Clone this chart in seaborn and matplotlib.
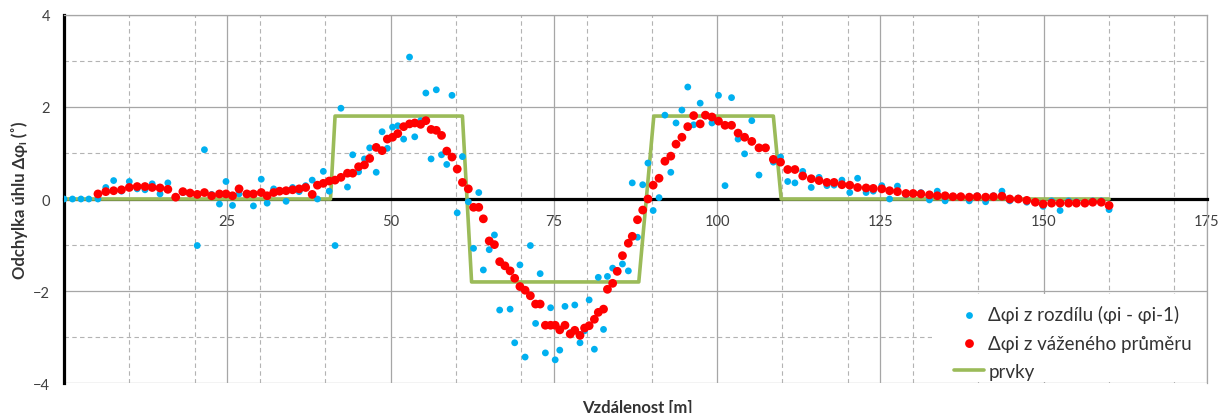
import numpy as np
import matplotlib
matplotlib.use("Agg")
import matplotlib.pyplot as plt
from matplotlib.ticker import MultipleLocator, FixedLocator
from matplotlib.transforms import Bbox, TransformedBbox
import pandas as pd
import seaborn as sns

# Station positions along the measured line [m]
distance = [
    0.0, 1.3, 2.6, 3.8, 5.2, 6.4, 7.6, 8.8, 10.0, 11.2, 12.4, 13.5, 14.7, 15.9,
    17.1, 18.2, 19.3, 20.4, 21.5, 22.6, 23.8, 24.8, 25.8, 26.8, 28.0, 29.0,
    30.2, 31.1, 32.1, 33.0, 34.0, 35.0, 36.0, 37.0, 38.0, 38.8, 39.7, 40.6,
    41.5, 42.4, 43.4, 44.2, 45.1, 46.0, 46.8, 47.8, 48.7, 49.5, 50.3, 51.1,
    52.0, 52.9, 53.7, 54.6, 55.4, 56.2, 57.0, 57.8, 58.6, 59.4, 60.2, 61.0,
    61.9, 62.7, 63.5, 64.2, 65.1, 65.9, 66.7, 67.5, 68.3, 69.0, 69.8, 70.6,
    71.4, 72.2, 72.9, 73.7, 74.5, 75.2, 75.9, 76.7, 77.5, 78.2, 79.0, 79.7,
    80.4, 81.2, 81.8, 82.6, 83.2, 84.0, 84.7, 85.5, 86.4, 87.0, 87.8, 88.6,
    89.4, 90.2, 91.1, 92.0, 92.9, 93.7, 94.6, 95.5, 96.4, 97.4, 98.2, 99.2,
    100.2, 101.2, 102.2, 103.2, 104.2, 105.3, 106.4, 107.4, 108.6, 109.7,
    110.8, 111.9, 113.1, 114.4, 115.6, 116.8, 117.9, 119.1, 120.3, 121.5,
    122.8, 123.9, 125.2, 126.4, 127.6, 128.9, 130.0, 131.2, 132.5, 133.7,
    134.9, 136.1, 137.3, 138.6, 139.8, 141.1, 142.3, 143.6, 144.8, 146.1,
    147.4, 148.7, 149.9, 151.2, 152.5, 153.8, 155.0, 156.3, 157.5, 158.8,
    160.0,
]

# Δφ from the difference of consecutive angles (φi - φi-1)
dphi_diff = [
    0.0, 0.0, 0.0, 0.0, 0.0, 0.25, 0.40, 0.17, 0.38, 0.22, 0.20, 0.33, 0.11,
    0.35, 0.04, 0.14, 0.12, -1.01, 1.07, 0.10, -0.11, 0.38, -0.14, 0.11, 0.10,
    -0.15, 0.43, -0.09, 0.22, 0.17, -0.05, 0.25, 0.16, 0.29, 0.41, 0.0, 0.60,
    0.17, -1.01, 1.97, 0.26, 0.96, 0.59, 0.87, 1.11, 0.58, 1.46, 1.10, 1.56,
    1.59, 1.30, 3.08, 1.35, 1.70, 2.30, 0.87, 2.37, 0.96, 0.75, 2.25, -0.30,
    0.92, -0.06, -1.07, 0.14, -1.54, -1.10, -0.78, -2.41, -1.45, -2.39, -3.12,
    -1.43, -3.43, -1.01, -2.70, -1.62, -3.34, -2.36, -3.49, -3.28, -2.33,
    -2.90, -2.30, -3.12, -2.86, -2.19, -3.26, -1.70, -2.83, -1.68, -1.50,
    -1.55, -1.41, -1.56, 0.35, -0.83, 0.31, 0.78, -0.25, 0.03, 1.82, 0.58,
    1.65, 1.93, 2.43, 1.61, 2.08, 1.80, 1.65, 2.25, 0.29, 2.20, 1.30, 0.98,
    1.70, 0.52, 1.10, 0.80, 0.91, 0.38, 0.35, 0.60, 0.25, 0.47, 0.29, 0.30,
    0.41, 0.14, 0.45, 0.14, 0.17, 0.29, 0.0, 0.28, 0.09, 0.12, 0.14, -0.02,
    0.17, -0.04, 0.05, 0.05, -0.04, 0.07, -0.06, 0.07, 0.17, -0.04, 0.02,
    -0.07, -0.08, -0.16, -0.04, -0.25, -0.04, -0.06, -0.08, -0.04, -0.04,
    -0.23,
]

# Δφ from the weighted mean (not defined for the first stations)
dphi_weighted = [
    np.nan, np.nan, np.nan, np.nan, 0.11, 0.16, 0.18, 0.20, 0.25, 0.27, 0.27,
    0.25, 0.24, 0.21, 0.04, 0.16, 0.13, 0.10, 0.14, 0.07, 0.11, 0.11, 0.07,
    0.22, 0.11, 0.11, 0.14, 0.07, 0.14, 0.17, 0.18, 0.20, 0.22, 0.25, 0.10,
    0.30, 0.34, 0.39, 0.41, 0.47, 0.56, 0.56, 0.70, 0.74, 0.88, 1.12, 1.05,
    1.30, 1.34, 1.42, 1.57, 1.63, 1.65, 1.62, 1.70, 1.51, 1.49, 1.38, 1.04,
    0.91, 0.65, 0.36, 0.22, -0.18, -0.18, -0.43, -0.91, -0.99, -1.36, -1.45,
    -1.56, -1.72, -1.90, -1.98, -2.10, -2.28, -2.28, -2.74, -2.74, -2.74,
    -2.84, -2.74, -2.93, -2.85, -2.96, -2.80, -2.75, -2.61, -2.46, -2.39,
    -1.96, -1.83, -1.57, -1.23, -0.96, -0.81, -0.45, -0.24, 0.0, 0.30, 0.45,
    0.82, 0.93, 1.19, 1.34, 1.57, 1.81, 1.63, 1.82, 1.78, 1.69, 1.60, 1.60,
    1.43, 1.34, 1.25, 1.11, 1.11, 0.86, 0.80, 0.64, 0.64, 0.50, 0.44, 0.40,
    0.36, 0.36, 0.31, 0.30, 0.25, 0.24, 0.23, 0.22, 0.18, 0.16, 0.12, 0.12,
    0.11, 0.09, 0.07, 0.07, 0.05, 0.05, 0.04, 0.05, 0.04, 0.05, 0.06, 0.0,
    0.0, -0.03, -0.07, -0.11, -0.09, -0.09, -0.09, -0.09, -0.09, -0.07,
    -0.07, -0.14,
]

# Design elements (prvky)
prvky_x = [0.0, 40.8, 41.5, 61.0, 62.4, 88.0, 90.3, 108.6, 109.8, 160.0]
prvky_y = [0.0, 0.0, 1.8, 1.8, -1.8, -1.8, 1.8, 1.8, 0.0, 0.0]

x_ticks = [0, 25, 50, 75, 100, 125, 150, 175]
x_tick_labels = ["", "25", "50", "75", "100", "125", "150", "175"]
y_ticks = [-4, -2, 0, 2, 4]

label_diff = "Δφi z rozdílu (φi - φi-1)"
label_weighted = "Δφi z váženého průměru"
label_prvky = "prvky"

sns.set_theme(style="white")
plt.rcParams["font.family"] = ["Lato", "DejaVu Sans"]

pts = pd.DataFrame({"x": distance, "diff": dphi_diff, "weighted": dphi_weighted})
elems = pd.DataFrame({"x": prvky_x, "y": prvky_y})

fig = plt.figure(figsize=(12.19, 4.14), dpi=100)
ax = fig.add_axes([0.0525, 0.0717, 0.9377, 0.8904])

sns.lineplot(data=elems, x="x", y="y", sort=False, color="#9BBB59",
             linewidth=2.6, ax=ax, label=label_prvky, zorder=3)
sns.scatterplot(data=pts, x="x", y="diff", color="#00B0F0", s=24,
                edgecolor="none", ax=ax, label=label_diff, zorder=4)
sns.scatterplot(data=pts.dropna(), x="x", y="weighted", color="#FF0000", s=40,
                edgecolor="none", ax=ax, label=label_weighted, zorder=5)

ax.set_xlim(0, 175)
ax.set_ylim(-4, 4)

# Grid: solid major lines, dashed minor lines
ax.xaxis.set_major_locator(FixedLocator(x_ticks))
ax.xaxis.set_minor_locator(MultipleLocator(10))
ax.yaxis.set_major_locator(FixedLocator(y_ticks))
ax.yaxis.set_minor_locator(MultipleLocator(1))
ax.set_xticklabels(x_tick_labels)
ax.set_axisbelow(True)
ax.grid(which="major", color="#a6a6a6", linewidth=0.9, linestyle="-")
ax.grid(which="minor", color="#b3b3b3", linewidth=0.8, linestyle=(0, (4, 3)))

# Axes crossing at the origin
ax.spines["bottom"].set_position(("data", 0))
ax.spines["left"].set_position(("data", 0))
for side in ("bottom", "left"):
    ax.spines[side].set_color("black")
    ax.spines[side].set_linewidth(2.3)
for side in ("top", "right"):
    ax.spines[side].set_color("#a6a6a6")
    ax.spines[side].set_linewidth(0.9)

ax.tick_params(axis="x", which="major", direction="out", length=3, width=1.5,
               color="black", pad=8, labelsize=10.5, labelcolor="#404040")
ax.tick_params(axis="y", which="major", direction="out", length=4, width=2,
               color="black", pad=6, labelsize=10.5, labelcolor="#404040")
ax.tick_params(which="minor", length=0)

ax.set_xlabel("Vzdálenost [m]", fontsize=12, fontweight="bold", color="#333333")
ax.set_ylabel("Odchylka úhlu Δφᵢ (˚)", fontsize=12, fontweight="bold",
              color="#333333")
ax.xaxis.set_label_coords(0.502, -0.064)
ax.xaxis.label.set_va("center")
ax.yaxis.set_label_coords(-0.0385, 0.5)
ax.yaxis.label.set_va("center")

handles, labels = ax.get_legend_handles_labels()
order = [labels.index(label_diff), labels.index(label_weighted), labels.index(label_prvky)]
leg = ax.legend([handles[i] for i in order], [labels[i] for i in order],
                loc="lower right", bbox_to_anchor=(0.99, 0.0), borderaxespad=0.0,
                frameon=True, facecolor="white", edgecolor="none", framealpha=1.0,
                fontsize=13.5, handlelength=1.6, handletextpad=0.2,
                labelspacing=0.59, borderpad=0.2)
for t in leg.get_texts():
    t.set_color("#333333")
# White legend area: wider than its entries, kept below the -2 grid line
# and inside the plot frame
frame = leg.get_frame()
frame.set_boxstyle("square", pad=1.0)
frame.set_clip_box(TransformedBbox(Bbox([[0.0, 0.004], [0.9995, 0.243]]), ax.transAxes))

fig.savefig("out.png", dpi=100)
